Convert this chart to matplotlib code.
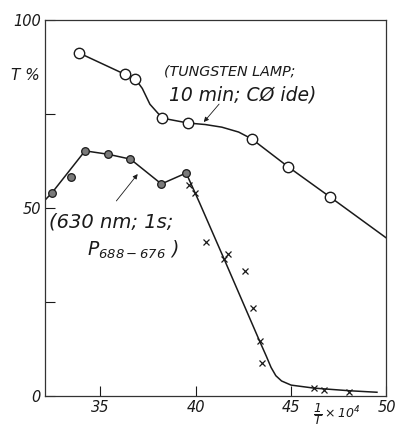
import matplotlib
matplotlib.use("Agg")
import matplotlib.pyplot as plt

plt.rcParams['font.family'] = ['DejaVu Sans']
plt.rcParams['font.style'] = 'italic'
plt.rcParams['mathtext.default'] = 'it'

# Tungsten lamp (open circles)
tung_x = [33.9, 36.27, 36.84, 38.25, 39.6, 42.93, 44.86, 47.05]
tung_T = [91.2, 85.6, 84.3, 73.9, 72.6, 68.4, 60.9, 52.9]
# hand-drawn curve through tungsten data
tung_curve_x = [33.9, 36.27, 36.84, 37.2, 37.6, 38.25, 39.6, 40.5, 41.37, 42.25, 42.93, 44.86, 47.05, 50.0]
tung_curve_T = [91.2, 85.6, 84.3, 81.8, 77.6, 73.9, 72.6, 72.2, 71.5, 70.2, 68.4, 60.9, 52.9, 42.0]

# 630 nm filled circles
red_x = [32.46, 33.45, 34.2, 35.4, 36.58, 38.2, 39.5]
red_T = [54.0, 58.2, 65.2, 64.3, 63.0, 56.4, 59.3]
# crosses
cross_x = [39.65, 39.96, 40.54, 41.5, 41.67, 42.6, 42.99, 43.35, 43.45, 46.2, 46.7, 48.06]
cross_T = [56.1, 54.0, 41.0, 36.4, 37.8, 33.2, 23.4, 14.6, 8.8, 2.1, 1.6, 1.1]
# hand-drawn curve through 630 nm data
red_curve_x = [32.1, 32.46, 34.2, 35.4, 36.58, 38.2, 39.5, 40.2, 41.5, 43.35, 43.7, 43.95, 44.2, 44.5, 45.0, 46.2, 48.06, 49.5]
red_curve_T = [52.1, 54.0, 65.2, 64.3, 63.0, 56.4, 59.3, 51.4, 36.3, 14.6, 10.6, 7.6, 5.4, 4.0, 2.9, 2.1, 1.4, 1.0]

xticks = [35, 40, 45, 50]
yticks = [0, 25, 50, 75, 100]
ytick_labels = ['0', '', '50', '', '100']

fig = plt.figure(figsize=(3.96, 4.32), dpi=100)
ax = fig.add_axes([0.1136, 0.0833, 0.976 - 0.1136, 0.9537 - 0.0833])

lc = '#1a1a1a'
ax.plot(tung_curve_x, tung_curve_T, color=lc, lw=1.1, zorder=2)
ax.plot(tung_x, tung_T, 'o', ms=7.5, mfc='white', mec=lc, mew=1.0, zorder=3)

ax.plot(red_curve_x, red_curve_T, color=lc, lw=1.1, zorder=2)
ax.plot(red_x, red_T, 'o', ms=5.5, mfc='#7a7a7a', mec=lc, mew=0.9, zorder=3)
ax.plot(cross_x, cross_T, 'x', ms=4.3, color=lc, mew=0.9, zorder=3)

ax.set_xlim(32.1, 50)
ax.set_ylim(0, 100)
ax.set_xticks(xticks)
ax.set_xticklabels([str(t) for t in xticks])
ax.set_yticks(yticks)
ax.set_yticklabels(ytick_labels)
ax.tick_params(direction='in', length=7, width=0.8, labelsize=10.5, pad=3, colors=lc)
for s in ax.spines.values():
    s.set_linewidth(0.9)
    s.set_color('#333333')

fig.text(25 / 396, 1 - 76 / 432, 'T %', fontsize=11, ha='center', va='center', color=lc)
fig.text(337 / 396, 1 - 414 / 432, r'$\dfrac{1}{T}\times10^4$', fontsize=9, ha='center', va='center', color=lc)

ax.text(38.35, 86.2, '(TUNGSTEN LAMP;', fontsize=10.3, ha='left', va='center', color=lc)
ax.text(38.6, 80.0, '10 min; CØ ide)', fontsize=13.5, ha='left', va='center', color=lc)
ax.annotate('', xy=(40.33, 72.3), xytext=(41.32, 78.2),
            arrowprops=dict(arrowstyle='-|>', color=lc, lw=0.6, mutation_scale=7))

ax.text(32.3, 46.3, '(630 nm; 1s;', fontsize=14, ha='left', va='center', color=lc)
ax.text(34.3, 38.8, r'$P_{688-676}$ )', fontsize=13.5, ha='left', va='center', color=lc)
ax.annotate('', xy=(37.05, 59.6), xytext=(35.75, 51.3),
            arrowprops=dict(arrowstyle='-|>', color=lc, lw=0.6, mutation_scale=7))

fig.savefig('out.png', dpi=100)
